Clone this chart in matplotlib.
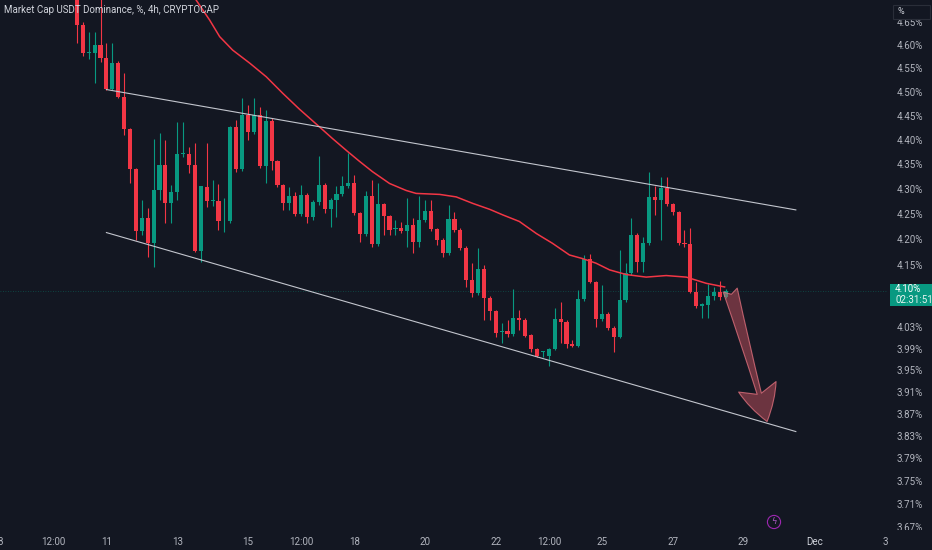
import matplotlib
matplotlib.use("Agg")
import matplotlib.pyplot as plt
import matplotlib.dates as mdates
from matplotlib.ticker import FixedLocator, FixedFormatter, NullLocator, NullFormatter
from matplotlib.patches import Rectangle
from matplotlib.transforms import Bbox, TransformedBbox
import numpy as np
import pandas as pd

plt.rcParams['font.family'] = ['Roboto', 'DejaVu Sans']

BG = '#131722'
TXT = '#b2b5be'
UP = '#089981'
DOWN = '#f23645'

# 4h candles, first visible one starts Nov 10 04:00
start = '2024-11-10 04:00'
opens = [4.720, 4.643, 4.583, 4.583, 4.600, 4.572, 4.506, 4.562, 4.489, 4.423,
         4.341, 4.216, 4.242, 4.192, 4.298, 4.349, 4.272, 4.294, 4.371, 4.371,
         4.349, 4.177, 4.304, 4.276, 4.276, 4.235, 4.235, 4.427, 4.341, 4.452,
         4.416, 4.452, 4.347, 4.439, 4.357, 4.307, 4.271, 4.285, 4.249, 4.288,
         4.243, 4.274, 4.308, 4.259, 4.278, 4.290, 4.306, 4.312, 4.251, 4.210,
         4.285, 4.190, 4.269, 4.245, 4.221, 4.223, 4.217, 4.227, 4.195, 4.238,
         4.255, 4.220, 4.198, 4.172, 4.239, 4.218, 4.183, 4.121, 4.095, 4.141,
         4.086, 4.061, 4.022, 4.023, 4.017, 4.047, 4.044, 4.016, 3.989, 3.983,
         3.977, 3.989, 4.045, 4.041, 3.999, 3.995, 4.083, 4.162, 4.117, 4.045,
         4.055, 4.029, 4.012, 4.082, 4.133, 4.208, 4.156, 4.192, 4.283, 4.277,
         4.301, 4.269, 4.253, 4.193, 4.190, 4.098, 4.071, 4.073, 4.090, 4.098,
         4.088]
highs = [4.742, 4.650, 4.628, 4.628, 4.720, 4.605, 4.605, 4.566, 4.540, 4.425,
         4.343, 4.278, 4.262, 4.402, 4.414, 4.400, 4.308, 4.437, 4.437, 4.386,
         4.394, 4.306, 4.394, 4.318, 4.310, 4.282, 4.429, 4.441, 4.487, 4.473,
         4.487, 4.469, 4.462, 4.445, 4.359, 4.310, 4.304, 4.294, 4.308, 4.292,
         4.278, 4.366, 4.312, 4.282, 4.306, 4.326, 4.373, 4.328, 4.254, 4.295,
         4.318, 4.312, 4.272, 4.248, 4.238, 4.234, 4.281, 4.242, 4.285, 4.278,
         4.278, 4.222, 4.202, 4.268, 4.253, 4.222, 4.186, 4.153, 4.182, 4.149,
         4.090, 4.063, 4.038, 4.044, 4.104, 4.063, 4.048, 4.017, 3.991, 3.986,
         3.991, 4.066, 4.079, 4.044, 4.006, 4.101, 4.169, 4.171, 4.119, 4.111,
         4.059, 4.033, 4.179, 4.153, 4.241, 4.212, 4.204, 4.335, 4.305, 4.325,
         4.325, 4.272, 4.256, 4.218, 4.222, 4.117, 4.076, 4.112, 4.107, 4.119,
         4.103]
lows = [4.605, 4.577, 4.570, 4.519, 4.564, 4.504, 4.504, 4.487, 4.410, 4.312,
        4.198, 4.208, 4.165, 4.145, 4.278, 4.232, 4.232, 4.278, 4.365, 4.333,
        4.175, 4.155, 4.264, 4.266, 4.218, 4.214, 4.232, 4.334, 4.336, 4.400,
        4.412, 4.343, 4.312, 4.339, 4.304, 4.258, 4.258, 4.246, 4.246, 4.232,
        4.238, 4.268, 4.252, 4.225, 4.244, 4.286, 4.302, 4.248, 4.195, 4.206,
        4.185, 4.186, 4.208, 4.208, 4.208, 4.212, 4.185, 4.173, 4.185, 4.234,
        4.216, 4.188, 4.165, 4.169, 4.214, 4.179, 4.107, 4.088, 4.092, 4.044,
        4.044, 4.012, 4.000, 4.012, 4.014, 4.025, 4.012, 3.984, 3.975, 3.974,
        3.957, 3.987, 4.000, 3.991, 3.993, 3.993, 4.080, 4.114, 4.031, 4.042,
        4.025, 3.984, 4.010, 4.078, 4.130, 4.136, 4.136, 4.188, 4.248, 4.198,
        4.266, 4.248, 4.188, 4.184, 4.095, 4.066, 4.047, 4.047, 4.082, 4.082,
        4.086]
closes = [4.643, 4.583, 4.585, 4.600, 4.572, 4.506, 4.562, 4.489, 4.423, 4.341,
          4.216, 4.242, 4.192, 4.298, 4.349, 4.272, 4.294, 4.371, 4.373, 4.349,
          4.177, 4.306, 4.276, 4.276, 4.235, 4.236, 4.427, 4.341, 4.452, 4.416,
          4.452, 4.347, 4.439, 4.357, 4.307, 4.271, 4.285, 4.249, 4.288, 4.243,
          4.274, 4.308, 4.259, 4.278, 4.290, 4.306, 4.312, 4.251, 4.210, 4.285,
          4.190, 4.269, 4.245, 4.219, 4.222, 4.217, 4.227, 4.195, 4.238, 4.255,
          4.220, 4.198, 4.172, 4.239, 4.218, 4.183, 4.121, 4.095, 4.141, 4.086,
          4.061, 4.020, 4.023, 4.017, 4.047, 4.044, 4.014, 3.989, 3.976, 3.985,
          3.989, 4.045, 4.041, 3.999, 3.995, 4.083, 4.162, 4.117, 4.045, 4.055,
          4.029, 4.012, 4.082, 4.133, 4.208, 4.156, 4.192, 4.283, 4.277, 4.301,
          4.269, 4.253, 4.193, 4.190, 4.098, 4.071, 4.074, 4.090, 4.098, 4.088,
          4.100]

# moving average (position in candles from start, value)
ma_idx = [19.1, 20.2, 22.5, 24.2, 26.4, 29.3, 32.1, 34.9, 37.7, 41.1, 43.3, 45.9,
          47.9, 50.1, 53.0, 55.8, 57.5, 61.5, 64.3, 67.1, 70.0, 72.2, 75.0, 77.9,
          80.6, 83.5, 85.7, 88.0, 90.3, 93.1, 96.5, 99.9, 103.3, 106.7, 109.8]
ma_vals = [4.731, 4.698, 4.654, 4.618, 4.589, 4.561, 4.532, 4.497, 4.464, 4.427,
           4.403, 4.376, 4.356, 4.335, 4.311, 4.297, 4.291, 4.289, 4.284, 4.271,
           4.259, 4.248, 4.235, 4.211, 4.192, 4.169, 4.162, 4.153, 4.140, 4.131,
           4.126, 4.129, 4.126, 4.114, 4.107]

# channel lines and arrow drawing
upper_line = (('2024-11-11 00:00', 4.505), ('2024-11-30 11:30', 4.258))
lower_line = (('2024-11-11 00:00', 4.213), ('2024-11-30 11:30', 3.838))
arrow_tail = ('2024-11-28 15:00', 4.101)
arrow_tip = ('2024-11-29 16:00', 3.856)
last_price = 4.10

ytick_vals = [4.65, 4.60, 4.55, 4.50, 4.45, 4.40, 4.35, 4.30, 4.25, 4.20, 4.15,
              4.03, 3.99, 3.95, 3.91, 3.87, 3.83, 3.79, 3.75, 3.71, 3.67]
xtick_dates = ['2024-11-08', '2024-11-09 12:00', '2024-11-11', '2024-11-13',
               '2024-11-15', '2024-11-16 12:00', '2024-11-18', '2024-11-20',
               '2024-11-22', '2024-11-23 12:00', '2024-11-25', '2024-11-27',
               '2024-11-29', '2024-12-01', '2024-12-03']
xtick_labels = ['8', '12:00', '11', '13', '15', '12:00', '18', '20', '22', '12:00',
                '25', '27', '29', 'Dec', '3']

def dnum(s):
    return mdates.date2num(pd.Timestamp(s))

dates = pd.date_range(start, periods=len(opens), freq='4h')
x = mdates.date2num(dates)
step = 4 / 24
o = np.array(opens); h = np.array(highs); l = np.array(lows); c = np.array(closes)
up = c >= o
cols = np.where(up, UP, DOWN)

fig = plt.figure(figsize=(9.32, 5.5), dpi=100, facecolor=BG)
ax = fig.add_axes([0, 20 / 550, 888 / 932, 530 / 550])
ax.set_facecolor(BG)
for s in ax.spines.values():
    s.set_visible(False)

ax.set_yscale('log')
ax.set_ylim(3.665, 4.698)
ax.set_xlim(dnum('2024-11-07 23:50'), dnum('2024-12-03 02:00'))

ax.vlines(x, l, h, colors=cols, lw=0.8, zorder=2)
body_h = np.maximum(np.abs(c - o), 0.0016)
ax.bar(x, body_h, width=step * 0.7, bottom=np.minimum(o, c), color=cols,
       edgecolor='none', zorder=2.1)

ax.plot(x[0] + np.array(ma_idx) * step, ma_vals, color=DOWN, lw=1.1, zorder=3)

for ln in (upper_line, lower_line):
    ax.plot([dnum(ln[0][0]), dnum(ln[1][0])], [ln[0][1], ln[1][1]],
            color='#c3c6ce', lw=0.8, zorder=4)

ax.axhline(last_price, color=UP, lw=0.6, ls=(0, (1, 2)), alpha=0.45, zorder=1)

ax.annotate('', xy=(dnum(arrow_tip[0]), arrow_tip[1]),
            xytext=(dnum(arrow_tail[0]), arrow_tail[1]),
            arrowprops=dict(arrowstyle='fancy,head_length=2.6,head_width=2.8,tail_width=1.05',
                            mutation_scale=10, fc=(0.85, 0.35, 0.40, 0.45),
                            ec=(0.90, 0.45, 0.50, 0.75), lw=0.8,
                            shrinkA=0, shrinkB=0), zorder=5)

ax.yaxis.tick_right()
ax.yaxis.set_major_locator(FixedLocator(ytick_vals))
ax.yaxis.set_major_formatter(FixedFormatter(['%.2f%%' % v for v in ytick_vals]))
ax.yaxis.set_minor_locator(NullLocator())
ax.yaxis.set_minor_formatter(NullFormatter())
ax.xaxis.set_major_locator(FixedLocator([dnum(d) for d in xtick_dates]))
ax.xaxis.set_major_formatter(FixedFormatter(xtick_labels))
ax.tick_params(axis='y', length=0, pad=6, labelsize=7, labelcolor=TXT)
ax.tick_params(axis='x', length=0, pad=5, labelsize=7, labelcolor=TXT)
clip = TransformedBbox(Bbox([[0, 20 / 550], [1, 1]]), fig.transFigure)
for t in ax.get_yticklabels():
    t.set_clip_box(clip)
    t.set_clip_on(True)
for t in ax.get_xticklabels():
    if t.get_text() == 'Dec':
        t.set_color('#d1d4dc')

fig.text(4 / 932, 1 - 10 / 550, 'Market Cap USDT Dominance, %, 4h, CRYPTOCAP',
         color='#d1d4dc', fontsize=7, va='center', ha='left')

# unit box top right
fig.add_artist(Rectangle((893 / 932, 1 - 19 / 550), 37 / 932, 14 / 550,
                         transform=fig.transFigure, fc=BG, ec='#2a2e39', lw=0.8))
fig.text(897 / 932, 1 - 11.5 / 550, '%', color='#d1d4dc', fontsize=6.5, va='center')

# last price tag
fig.add_artist(Rectangle((890 / 932, 1 - 306 / 550), 42 / 932, 22 / 550,
                         transform=fig.transFigure, fc=UP, ec='none'))
fig.text(895 / 932, 1 - 289.5 / 550, '%.2f%%' % last_price, color='white',
         fontsize=7, va='center')
fig.text(895 / 932, 1 - 300 / 550, '02:31:51', color='#e6f4f1', fontsize=7, va='center')

# lightning marker on time axis
fig.text(774 / 932, 1 - 522 / 550, '\u03df', color='#b05cc8', fontsize=6,
         family='DejaVu Sans', ha='center', va='center',
         bbox=dict(boxstyle='circle,pad=0.25', fc=BG, ec='#9c27b0', lw=0.8))

fig.savefig('out.png', dpi=100, facecolor=BG)
